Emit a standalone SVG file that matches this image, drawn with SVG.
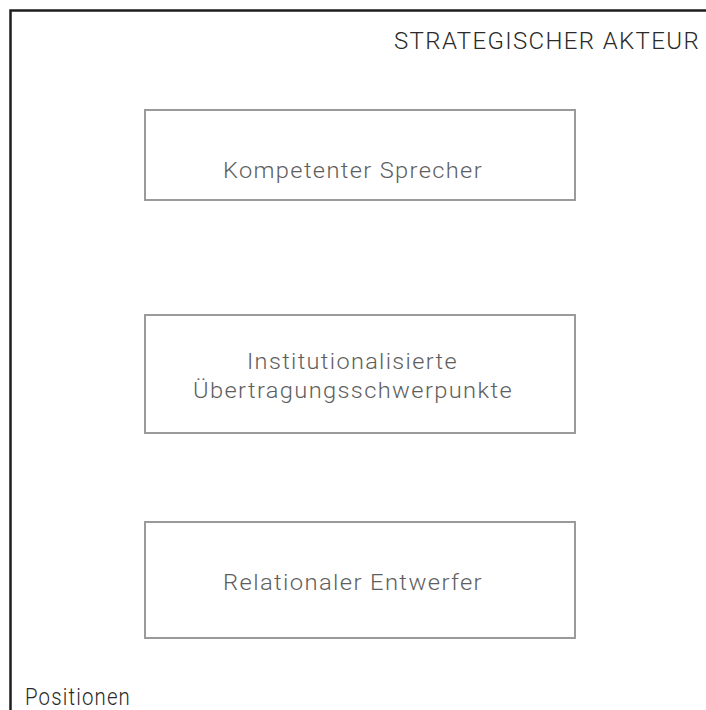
<svg xmlns="http://www.w3.org/2000/svg" width="706" height="710" viewBox="0 0 706 710">
  <style>
    .frame { fill: none; stroke: #1e1e1e; stroke-width: 2.5; }
    .box { fill: #ffffff; stroke: #9a9a9a; stroke-width: 2; }
    .label { font-family: Roboto, "Liberation Sans", sans-serif; font-weight: 300; font-size: 22.5px; letter-spacing: 1.3px; fill: #5e5e5e; }
    .title { font-family: Roboto, "Liberation Sans", sans-serif; font-weight: 300; font-size: 23px; letter-spacing: 1.3px; fill: #2a2a2a; }
  </style>
  <rect width="706" height="710" fill="#ffffff"/>

  <!-- outer frame: open at right and bottom -->
  <g id="frame">
    <path class="frame" d="M10.5,710 V10.5 H706"/>
    <text class="title" x="394" y="49" textLength="306" lengthAdjust="spacingAndGlyphs">STRATEGISCHER AKTEUR</text>
    <text class="title" x="25" y="705" textLength="106" lengthAdjust="spacingAndGlyphs">Positionen</text>
  </g>

  <g id="node-sprecher">
    <rect class="box" x="145" y="110" width="430" height="90"/>
    <text class="label" x="223" y="178" textLength="260" lengthAdjust="spacingAndGlyphs">Kompetenter Sprecher</text>
  </g>

  <g id="node-schwerpunkte">
    <rect class="box" x="145" y="315" width="430" height="118"/>
    <text class="label" x="247" y="369" textLength="211" lengthAdjust="spacingAndGlyphs">Institutionalisierte</text>
    <text class="label" x="193" y="398" textLength="320" lengthAdjust="spacingAndGlyphs">Übertragungsschwerpunkte</text>
  </g>

  <g id="node-entwerfer">
    <rect class="box" x="145" y="522" width="430" height="116"/>
    <text class="label" x="223" y="590" textLength="260" lengthAdjust="spacingAndGlyphs">Relationaler Entwerfer</text>
  </g>

  <g id="connectors"/>
</svg>
